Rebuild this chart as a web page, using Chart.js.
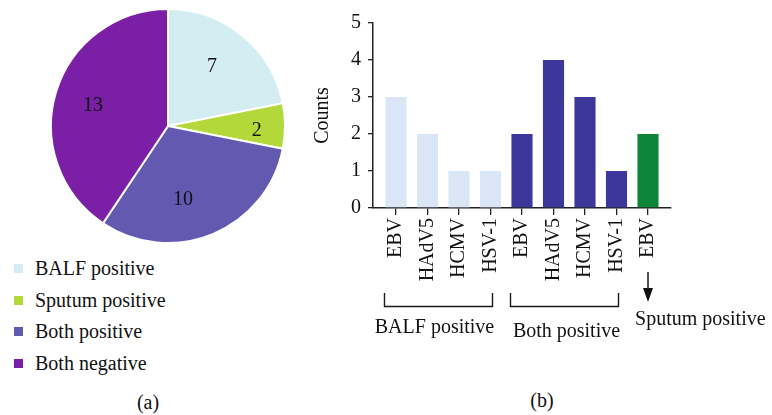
<!DOCTYPE html>
<html>
<head>
<meta charset="utf-8">
<script src="https://cdn.jsdelivr.net/npm/chart.js@4.4.1/dist/chart.umd.min.js"></script>
<style>
  html, body { margin: 0; padding: 0; background: #fff; }
  body { width: 772px; height: 415px; position: relative; overflow: hidden; font-family: "Liberation Serif", serif; color: #111; }
  #pieBox { position: absolute; left: 48px; top: 6px; width: 240px; height: 240px; }
  #barBox { position: absolute; left: 300px; top: 0px; width: 472px; height: 345px; }
  #legend { position: absolute; left: 14px; top: 253px; }
  .li { height: 31.5px; display: flex; align-items: center; font-size: 20px; }
  .sw { width: 9px; height: 9px; margin-right: 12px; }
  .panel { position: absolute; font-size: 20px; transform: translate(-50%, -50%); }
</style>
</head>
<body>
<div id="pieBox"><canvas id="pie"></canvas></div>
<div id="legend"></div>
<div id="barBox"><canvas id="bar"></canvas></div>
<div class="panel" style="left:148px; top:402px;">(a)</div>
<div class="panel" style="left:542px; top:400px;">(b)</div>
<script>
// ---- Pie data ----
const pieLabels = ['BALF positive', 'Sputum positive', 'Both positive', 'Both negative'];
const pieValues = [7, 2, 10, 13];
const pieColors = ['#d3edf2', '#b2d83a', '#6459b0', '#7a1fa6'];

// ---- Bar data ----
const barCategories = ['EBV', 'HAdV5', 'HCMV', 'HSV-1', 'EBV', 'HAdV5', 'HCMV', 'HSV-1', 'EBV'];
const barCounts = [3, 2, 1, 1, 2, 4, 3, 1, 2];
const barGroupOf = [0, 0, 0, 0, 1, 1, 1, 1, 2];
const groupNames = ['BALF positive', 'Both positive', 'Sputum positive'];
const groupFirst = [0, 4, 8];
const groupLast = [3, 7, 8];
const groupColors = ['#dae6f5', '#3d379b', '#0f8539'];
const yTicks = [0, 1, 2, 3, 4, 5];

const FONT = '"Liberation Serif", serif';

// HTML legend for pie
const leg = document.getElementById('legend');
pieLabels.forEach((l, i) => {
  const row = document.createElement('div');
  row.className = 'li';
  row.innerHTML = '<span class="sw" style="background:' + pieColors[i] + '"></span><span>' + l + '</span>';
  leg.appendChild(row);
});

// Pie value labels (radius fraction and angular nudge, degrees)
const labelFrac = [0.63, 0.76, 0.645, 0.663];
const labelNudge = [-2.7, 3, 11, -2];
const pieLabelPlugin = {
  id: 'pieLabels',
  afterDatasetsDraw(chart) {
    const ctx = chart.ctx;
    const meta = chart.getDatasetMeta(0);
    ctx.save();
    ctx.font = '20px ' + FONT;
    ctx.fillStyle = '#111';
    ctx.textAlign = 'center';
    ctx.textBaseline = 'middle';
    meta.data.forEach((arc, i) => {
      const p = arc.getProps(['x', 'y', 'startAngle', 'endAngle', 'outerRadius'], true);
      const a = (p.startAngle + p.endAngle) / 2 + labelNudge[i] * Math.PI / 180;
      const r = p.outerRadius * labelFrac[i];
      ctx.fillText(String(pieValues[i]), p.x + Math.cos(a) * r, p.y + Math.sin(a) * r);
    });
    ctx.restore();
  }
};

new Chart(document.getElementById('pie'), {
  type: 'pie',
  data: {
    labels: pieLabels,
    datasets: [{ data: pieValues, backgroundColor: pieColors, borderColor: '#fff', borderWidth: 2 }]
  },
  options: {
    responsive: true,
    maintainAspectRatio: false,
    animation: false,
    layout: { padding: 2 },
    plugins: { legend: { display: false }, tooltip: { enabled: false } }
  },
  plugins: [pieLabelPlugin]
});

// Brackets and group labels under the bar chart
const groupPlugin = {
  id: 'groups',
  afterDraw(chart) {
    const ctx = chart.ctx;
    const xs = chart.scales.x;
    ctx.save();
    ctx.strokeStyle = '#1a1a1a';
    ctx.fillStyle = '#111';
    ctx.lineWidth = 1.4;
    ctx.font = '20px ' + FONT;
    ctx.textAlign = 'center';
    ctx.textBaseline = 'middle';
    groupNames.forEach((name, g) => {
      if (groupFirst[g] !== groupLast[g]) {
        const l = Math.round(xs.getPixelForValue(groupFirst[g] - 0.38)) + 0.5;
        const r = Math.round(xs.getPixelForValue(groupLast[g] + 0.04)) + 0.5;
        ctx.beginPath();
        ctx.moveTo(l, 293); ctx.lineTo(l, 306.5); ctx.lineTo(r, 306.5); ctx.lineTo(r, 293);
        ctx.stroke();
        ctx.fillText(name, (l + r) / 2 + (g === 0 ? -4 : 2), g === 0 ? 328 : 332);
      } else {
        const x0 = xs.getPixelForValue(groupFirst[g]);
        ctx.lineWidth = 1.5;
        ctx.beginPath();
        ctx.moveTo(x0, 272); ctx.lineTo(x0, 291);
        ctx.stroke();
        ctx.beginPath();
        ctx.moveTo(x0 - 5, 288); ctx.lineTo(x0 + 5, 288); ctx.lineTo(x0, 302); ctx.closePath();
        ctx.fill();
        ctx.textAlign = 'left';
        ctx.fillText(name, x0 - 13, 320);
      }
    });
    ctx.restore();
  }
};

new Chart(document.getElementById('bar'), {
  type: 'bar',
  data: {
    datasets: [{
      data: barCounts.map((v, i) => ({ x: i, y: v })),
      backgroundColor: barGroupOf.map(g => groupColors[g]),
      borderWidth: 0,
      barPercentage: 0.67,
      categoryPercentage: 1.0
    }]
  },
  options: {
    responsive: true,
    maintainAspectRatio: false,
    animation: false,
    layout: { padding: { left: 0, right: 101, top: 23, bottom: 0 } },
    plugins: { legend: { display: false }, tooltip: { enabled: false } },
    scales: {
      x: {
        type: 'linear',
        offset: false,
        min: -0.73,
        max: 8.73,
        afterFit(s) { s.height = 137; },
        afterBuildTicks(s) { s.ticks = barCategories.map((c, i) => ({ value: i })); },
        grid: { display: true, offset: false, drawOnChartArea: false, drawTicks: true, tickLength: 7, color: '#222', lineWidth: 1.3 },
        border: { display: true, color: '#222', width: 1.5 },
        ticks: {
          color: '#111', font: { family: FONT, size: 20 }, minRotation: 90, maxRotation: 90, padding: 3, autoSkip: false,
          callback: (v) => barCategories[v]
        }
      },
      y: {
        min: 0, max: 5,
        afterFit(s) { s.width = 73; },
        afterBuildTicks(s) { s.ticks = yTicks.map(v => ({ value: v })); },
        grid: { display: true, drawOnChartArea: false, drawTicks: true, tickLength: 5, color: '#222', lineWidth: 1.3 },
        border: { display: true, color: '#222', width: 1.5 },
        ticks: { color: '#111', font: { family: FONT, size: 20 }, padding: 7 },
        title: { display: true, text: 'Counts', color: '#111', font: { family: FONT, size: 20 }, padding: { top: 11, bottom: 0 } }
      }
    }
  },
  plugins: [groupPlugin]
});
</script>
</body>
</html>
